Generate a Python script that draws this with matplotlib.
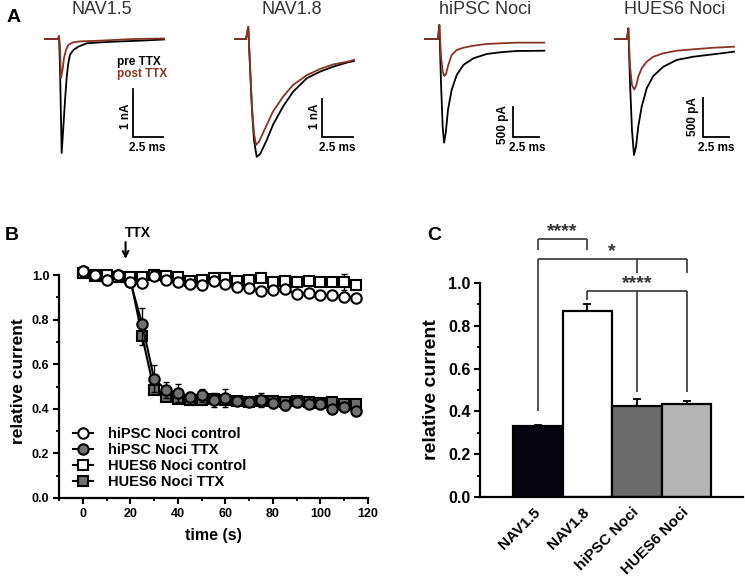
import matplotlib
matplotlib.use("Agg")
import matplotlib.pyplot as plt

plt.rcParams['font.family'] = ['Liberation Sans', 'DejaVu Sans']
plt.rcParams['font.weight'] = 'bold'
plt.rcParams['axes.labelweight'] = 'bold'

W, H = 745, 578

# ---- panel A: current traces (time in ms, current in nA or pA) ----
NAV15_PRE_T = [0, 1.08, 1.17, 1.25, 1.39, 1.53, 1.67, 1.81, 1.94, 2.08, 2.36, 2.78, 3.47, 4.58, 6.25, 7.9, 9.92]
NAV15_PRE = [0, 0, 0.06, -0.6, -2.375, -1.83, -1.27, -0.79, -0.51, -0.33, -0.23, -0.16, -0.09, -0.07, -0.05, -0.035, -0.01]
NAV15_POST_T = [0, 1.08, 1.17, 1.25, 1.33, 1.46, 1.58, 1.75, 1.94, 2.33, 2.92, 4.58, 7.33, 9.92]
NAV15_POST = [0, 0, 0.06, -0.2, -0.81, -0.65, -0.40, -0.23, -0.125, -0.07, -0.05, -0.035, 0.0, 0.01]

NAV18_PRE_T = [0, 0.89, 1.07, 1.21, 1.37, 1.53, 1.75, 2.02, 2.56, 3.06, 3.87, 4.68, 5.8, 6.85, 7.9, 9.03, 9.6]
NAV18_PRE = [0, 0, 0.32, -0.73, -1.87, -2.66, -3.10, -3.03, -2.66, -2.26, -1.78, -1.39, -1.03, -0.86, -0.73, -0.62, -0.58]
NAV18_POST_T = [0, 0.89, 1.07, 1.21, 1.37, 1.53, 1.69, 1.94, 2.56, 3.06, 3.87, 4.68, 5.8, 6.85, 7.9, 9.03, 9.6]
NAV18_POST = [0, 0, 0.32, -0.7, -1.8, -2.48, -2.79, -2.70, -2.26, -1.91, -1.52, -1.21, -0.95, -0.79, -0.67, -0.60, -0.55]

HIPSC_PRE_T = [0, 1.25, 1.38, 1.54, 1.70, 1.83, 1.99, 2.21, 2.56, 3.05, 3.69, 4.65, 5.93, 7.21, 8.8, 11.47]
HIPSC_PRE = [0, 0, 233, -738, -1460, -1728, -1572, -1183, -850, -600, -433, -322, -250, -222, -200, -195]
HIPSC_POST_T = [0, 1.25, 1.38, 1.54, 1.70, 1.86, 2.02, 2.24, 2.56, 3.05, 3.69, 4.65, 5.93, 7.21, 8.8, 11.47]
HIPSC_POST = [0, 0, 233, -295, -545, -617, -583, -433, -267, -183, -145, -112, -83, -72, -61, -61]

HUES6_PRE_T = [0, 1.12, 1.25, 1.41, 1.59, 1.78, 1.97, 2.18, 2.5, 2.97, 3.59, 4.53, 5.78, 7.34, 9.22, 11.15]
HUES6_PRE = [0, 0, 137, -568, -1167, -1487, -1380, -1124, -868, -632, -474, -355, -269, -227, -196, -163]
HUES6_POST_T = [0, 1.12, 1.25, 1.41, 1.59, 1.81, 2.0, 2.18, 2.5, 2.97, 3.59, 4.53, 5.78, 7.34, 9.22, 11.15]
HUES6_POST = [0, 0, 137, -355, -590, -649, -590, -483, -376, -291, -227, -183, -150, -132, -112, -99]

TRACE_TITLES = ['NAV1.5', 'NAV1.8', 'hiPSC Noci', 'HUES6 Noci']
SCALE_SIZES = [1, 1, 500, 500]
SCALE_LABELS = ['1 nA', '1 nA', '500 pA', '500 pA']
SCALE_TIME = 2.5

# ---- panel B: relative current over time ----
TIME = [0, 5, 10, 15, 20, 25, 30, 35, 40, 45, 50, 55, 60, 65, 70, 75, 80, 85, 90, 95, 100, 105, 110, 115]
HIPSC_CTRL = [1.02, 1.00, 0.98, 1.00, 0.97, 0.963, 0.996, 0.978, 0.967, 0.96, 0.955, 0.975, 0.958, 0.945,
              0.94, 0.928, 0.931, 0.937, 0.913, 0.919, 0.91, 0.91, 0.903, 0.898]
HIPSC_CTRL_ERR = [0.01, 0.01, 0.01, 0.01, 0.01, 0.01, 0.01, 0.01, 0.01, 0.01, 0.01, 0.01,
                  0.01, 0.01, 0.01, 0.01, 0.01, 0.01, 0.01, 0.01, 0.01, 0.01, 0.01, 0.01]
HIPSC_TTX = [1.02, 1.0, 0.99, 1.0, 0.97, 0.78, 0.535, 0.485, 0.47, 0.455, 0.46, 0.44, 0.45, 0.435,
             0.43, 0.44, 0.425, 0.415, 0.43, 0.42, 0.42, 0.40, 0.41, 0.39]
HIPSC_TTX_ERR = [0.01, 0.01, 0.01, 0.01, 0.01, 0.07, 0.06, 0.035, 0.04, 0.02, 0.03, 0.03,
                 0.04, 0.02, 0.015, 0.03, 0.02, 0.02, 0.02, 0.015, 0.02, 0.015, 0.015, 0.015]
HUES6_CTRL = [1.01, 1.0, 1.0, 0.99, 0.99, 0.99, 1.0, 0.995, 0.99, 0.975, 0.98, 0.985, 0.985, 0.975,
              0.98, 0.985, 0.97, 0.975, 0.97, 0.975, 0.97, 0.97, 0.97, 0.955]
HUES6_CTRL_ERR = [0.01, 0.01, 0.01, 0.01, 0.01, 0.01, 0.01, 0.01, 0.01, 0.01, 0.01, 0.01,
                  0.01, 0.01, 0.01, 0.01, 0.01, 0.01, 0.01, 0.01, 0.01, 0.01, 0.035, 0.01]
HUES6_TTX = [1.01, 0.995, 0.995, 0.99, 0.985, 0.725, 0.485, 0.455, 0.445, 0.44, 0.44, 0.445, 0.44, 0.435,
             0.43, 0.435, 0.435, 0.43, 0.435, 0.43, 0.425, 0.43, 0.42, 0.42]
HUES6_TTX_ERR = [0.01, 0.01, 0.01, 0.01, 0.01, 0.04, 0.02, 0.02, 0.015, 0.015, 0.015, 0.02,
                 0.02, 0.015, 0.015, 0.015, 0.015, 0.015, 0.015, 0.015, 0.015, 0.015, 0.015, 0.015]
TTX_TIME = 18

# ---- panel C: relative current after TTX ----
C_LABELS = ['NAV1.5', 'NAV1.8', 'hiPSC Noci', 'HUES6 Noci']
C_MEANS = [0.33, 0.87, 0.425, 0.433]
C_ERR = [0.005, 0.03, 0.035, 0.015]
C_COLORS = ['#05030d', '#ffffff', '#6b6b6b', '#b4b4b4']

RED = '#8a3322'
GRAY_TXT = '#333333'

fig = plt.figure(figsize=(W / 100, H / 100), dpi=100)


def fig_text(x_px, y_px, s, **kw):
    fig.text(x_px / W, 1 - y_px / H, s, **kw)


def add_axes_px(left, top, right, bottom):
    return fig.add_axes([left / W, 1 - bottom / H, (right - left) / W, (bottom - top) / H])


# panel A layout: pixel of (t=0, I=0), px per ms, px per unit, scale bar origin (t, I)
trace_layout = [
    (45, 39, 12.0, 48.0, 7.36, -2.05),
    (235, 39, 12.4, 38.0, 7.04, -2.59),
    (425, 39, 10.4, 0.06, 8.49, -1638),
    (615, 39, 10.67, 0.078, 8.22, -1260),
]
traces = [
    (NAV15_PRE_T, NAV15_PRE, NAV15_POST_T, NAV15_POST),
    (NAV18_PRE_T, NAV18_PRE, NAV18_POST_T, NAV18_POST),
    (HIPSC_PRE_T, HIPSC_PRE, HIPSC_POST_T, HIPSC_POST),
    (HUES6_PRE_T, HUES6_PRE, HUES6_POST_T, HUES6_POST),
]
title_x = [102, 292, 485, 675]
vlabel_pos = [(126, 116), (315, 116), (503, 125), (693, 117)]
hlabel_pos = [(147, 148), (337, 148), (527, 148), (716, 148)]

for i, (x0, y0, pms, punit, sbt, sbi) in enumerate(trace_layout):
    left, right, top, bottom = x0 - 12, x0 + 130, y0 - 30, y0 + 125
    ax = add_axes_px(left, top, right, bottom)
    ax.set_xlim((left - x0) / pms, (right - x0) / pms)
    ax.set_ylim(-(bottom - y0) / punit, (y0 - top) / punit)
    ax.axis('off')
    pre_t, pre, post_t, post = traces[i]
    ax.plot(pre_t, pre, color='black', lw=1.3, zorder=2)
    ax.plot(post_t, post, color=RED, lw=1.3, zorder=3)
    size = SCALE_SIZES[i]
    ax.plot([sbt, sbt, sbt + SCALE_TIME], [sbi + size, sbi, sbi], color='black', lw=1.3,
            solid_joinstyle='miter')
    fig_text(title_x[i], 10, TRACE_TITLES[i], fontsize=13, fontweight='normal',
             color=GRAY_TXT, ha='center', va='center')
    fig_text(vlabel_pos[i][0], vlabel_pos[i][1], SCALE_LABELS[i], fontsize=8.5,
             rotation=90, ha='center', va='center')
    fig_text(hlabel_pos[i][0], hlabel_pos[i][1], f'{SCALE_TIME} ms', fontsize=8.5,
             ha='center', va='center')

fig_text(117, 62, 'pre TTX', fontsize=8.5, ha='left', va='center', color='black')
fig_text(117, 74, 'post TTX', fontsize=8.5, ha='left', va='center', color=RED)

# panel labels
fig_text(14, 17, 'A', fontsize=14, ha='center', va='center')
fig_text(12, 235, 'B', fontsize=14, ha='center', va='center')
fig_text(434, 235, 'C', fontsize=14, ha='center', va='center')

# ---- panel B ----
axb = add_axes_px(59, 263.9, 368, 498)
axb.set_xlim(-10, 120)
axb.set_ylim(0, 1.05)
for s in ['top', 'right']:
    axb.spines[s].set_visible(False)
for s in ['left', 'bottom']:
    axb.spines[s].set_linewidth(1.6)
axb.spines['left'].set_bounds(0, 1.0)
axb.set_xticks([0, 20, 40, 60, 80, 100, 120])
axb.set_xticks([-10, 10, 30, 50, 70, 90, 110], minor=True)
axb.set_yticks([0.0, 0.2, 0.4, 0.6, 0.8, 1.0])
axb.set_yticks([0.1, 0.3, 0.5, 0.7, 0.9], minor=True)
axb.set_yticklabels([f'{v:.1f}' for v in [0.0, 0.2, 0.4, 0.6, 0.8, 1.0]])
axb.tick_params(which='major', length=4, width=1.5, labelsize=9, pad=3)
axb.tick_params(which='minor', length=2.5, width=1.3)
axb.set_xlabel('time (s)', fontsize=11.5, labelpad=6)
axb.set_ylabel('relative current', fontsize=12.5, labelpad=4)

# (values, errors, marker, face colour, label, zorder) in legend order
series = [
    (HIPSC_CTRL, HIPSC_CTRL_ERR, 'o', 'white', 'hiPSC Noci control', 8),
    (HIPSC_TTX, HIPSC_TTX_ERR, 'o', '#707070', 'hiPSC Noci TTX', 4),
    (HUES6_CTRL, HUES6_CTRL_ERR, 's', 'white', 'HUES6 Noci control', 6),
    (HUES6_TTX, HUES6_TTX_ERR, 's', '#707070', 'HUES6 Noci TTX', 2),
]
handles = []
for vals, err, mk, fc, lab, z in series:
    axb.errorbar(TIME, vals, yerr=err, fmt='none', ecolor='black', elinewidth=1,
                 capsize=2.5, capthick=1, zorder=z - 0.5)
    ln, = axb.plot(TIME, vals, color='black', lw=1.5, marker=mk, markersize=7.5,
                   markerfacecolor=fc, markeredgecolor='black', markeredgewidth=1.5,
                   label=lab, zorder=z, clip_on=False)
    handles.append(ln)
axb.legend(handles=handles, loc='lower left', bbox_to_anchor=(0.045, 0.04), frameon=False,
           fontsize=10.5, borderpad=0, borderaxespad=0, labelspacing=0.12,
           handlelength=1.4, handletextpad=1.0, numpoints=1)
axb.annotate('', xy=(TTX_TIME, 1.06), xytext=(TTX_TIME, 1.16),
             arrowprops=dict(arrowstyle='->', lw=1.5, color='black'), annotation_clip=False)
axb.text(23, 1.19, 'TTX', fontsize=10, ha='center', va='center')

# ---- panel C ----
axc = add_axes_px(480, 282.7, 743, 497.3)
xpos = list(range(len(C_LABELS)))
axc.bar(xpos, C_MEANS, width=1.0, color=C_COLORS, edgecolor='black', linewidth=1.6, zorder=2)
axc.errorbar(xpos, C_MEANS, yerr=[[0] * len(C_ERR), C_ERR], fmt='none', ecolor='black',
             elinewidth=1.3, capsize=3, capthick=1.3, zorder=3)
axc.set_xlim(-1.17, 4.14)
axc.set_ylim(0, 1.0)
for s in ['top', 'right']:
    axc.spines[s].set_visible(False)
for s in ['left', 'bottom']:
    axc.spines[s].set_linewidth(1.6)
axc.set_yticks([0.0, 0.2, 0.4, 0.6, 0.8, 1.0])
axc.set_yticks([0.1, 0.3, 0.5, 0.7, 0.9], minor=True)
axc.set_yticklabels([f'{v:.1f}' for v in [0.0, 0.2, 0.4, 0.6, 0.8, 1.0]])
axc.tick_params(axis='y', which='major', length=4, width=1.5, labelsize=11.5, pad=3)
axc.tick_params(axis='y', which='minor', length=2.5, width=1.3)
axc.set_xticks(xpos)
axc.set_xticklabels(C_LABELS, rotation=45, ha='right', va='center', rotation_mode='anchor',
                    fontsize=11)
axc.tick_params(axis='x', length=0, pad=9)
axc.set_ylabel('relative current', fontsize=14, labelpad=6)

# significance brackets: (horizontal y, [(x, leg bottom)], text x, text y, text)
brackets = [
    (1.205, [(0, 1.152), (1, 1.152)], 0.5, 1.24, '****'),
    (1.109, [(0, 0.40), (2, 1.047), (3, 1.047)], 1.5, 1.145, '*'),
    (0.963, [(1, 0.92), (2, 0.492), (3, 0.492)], 2.0, 0.998, '****'),
]
for yh, legs, tx, ty, txt in brackets:
    xs = [l[0] for l in legs]
    axc.plot([min(xs), max(xs)], [yh, yh], color=GRAY_TXT, lw=1.2, clip_on=False,
             solid_capstyle='butt', zorder=4)
    for lx, ly in legs:
        axc.plot([lx, lx], [yh, ly], color=GRAY_TXT, lw=1.2, clip_on=False,
                 solid_capstyle='butt', zorder=4)
    axc.text(tx, ty, txt, fontsize=14, color=GRAY_TXT, ha='center', va='center')

fig.savefig('out.png', dpi=100, facecolor='white')
